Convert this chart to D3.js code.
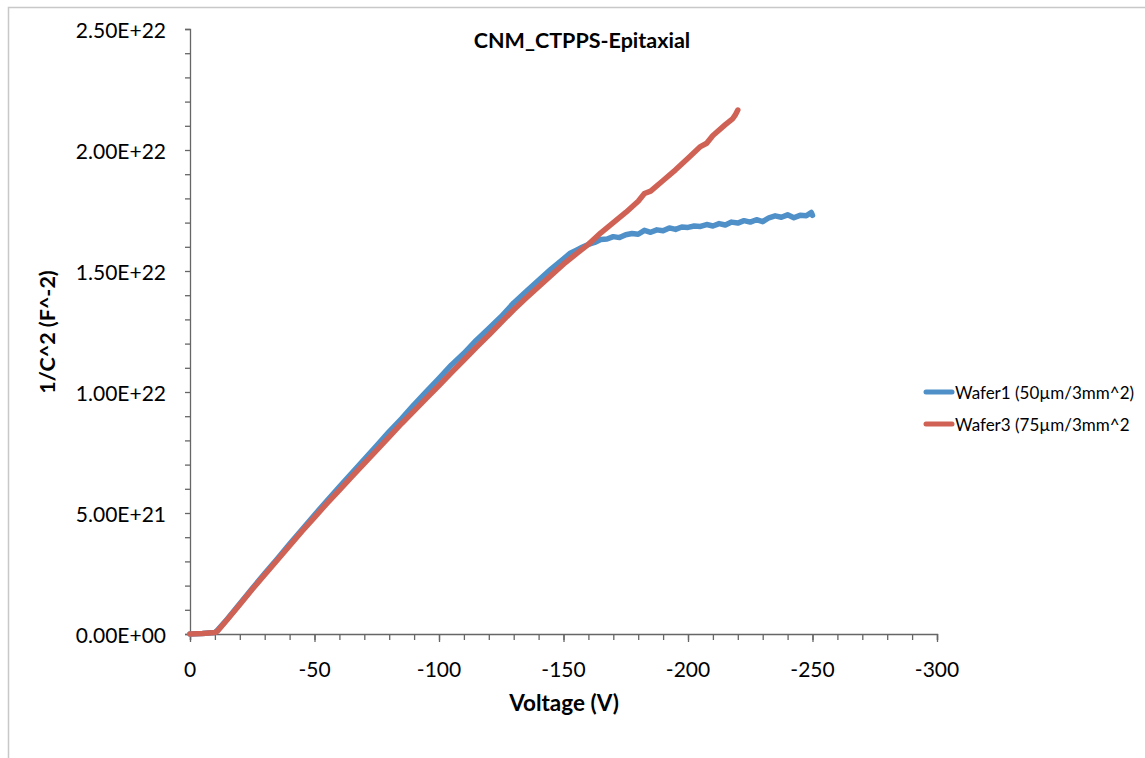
<!DOCTYPE html>
<html>
<head>
<meta charset="utf-8">
<script src="https://cdn.jsdelivr.net/npm/d3@7"></script>
<style>
  body { margin: 0; background: #fff; }
  svg { display: block; }
  text { font-family: Lato, "Open Sans", sans-serif; fill: #000; }
</style>
</head>
<body>
<svg id="chart" width="1145" height="758"></svg>
<script>
// ---------------- data (y values in units of 1E+21 F^-2) ----------------
const title = "CNM_CTPPS-Epitaxial";
const xTitle = "Voltage (V)";
const yTitle = "1/C^2 (F^-2)";
const seriesNames = ["Wafer1 (50µm/3mm^2)", "Wafer3 (75µm/3mm^2"];
const seriesColors = ["#5090C8", "#CF6255"];

const xTickValues = [0, -50, -100, -150, -200, -250, -300];
const xTickLabels = ["0", "-50", "-100", "-150", "-200", "-250", "-300"];
const yTickValues = [0, 5, 10, 15, 20, 25];
const yTickLabels = ["0.00E+00", "5.00E+21", "1.00E+22", "1.50E+22", "2.00E+22", "2.50E+22"];

const wafer1Voltage = [0, -5, -10, -11, -15, -20, -25, -30, -35, -40, -45, -50,
  -55, -60, -65, -70, -75, -80, -85, -90, -95, -100, -105, -110, -115, -120,
  -125, -130, -135, -140, -145, -150, -152.5, -155, -157.5, -160, -162.5, -165,
  -167.5, -170, -172.5, -175, -177.5, -180, -182.5, -185, -187.5, -190, -192.5,
  -195, -197.5, -200, -202.5, -205, -207.5, -210, -212.5, -215, -217.5, -220,
  -222.5, -225, -227.5, -230, -232.5, -235, -237.5, -240, -242.5, -245, -247.5,
  -249.5, -250];
const wafer1Value = [0, 0.02, 0.06, 0.15, 0.62, 1.25, 1.88, 2.5, 3.1, 3.72, 4.32, 4.92,
  5.5, 6.08, 6.65, 7.22, 7.78, 8.36, 8.9, 9.48, 10.02, 10.56, 11.12, 11.6, 12.14, 12.62,
  13.12, 13.68, 14.15, 14.62, 15.08, 15.5, 15.72, 15.85, 15.98, 16.1, 16.18, 16.3,
  16.32, 16.42, 16.38, 16.5, 16.55, 16.52, 16.68, 16.6, 16.7, 16.66, 16.78,
  16.72, 16.82, 16.8, 16.86, 16.84, 16.92, 16.86, 16.96, 16.9, 17.02, 16.98,
  17.08, 17.02, 17.12, 17.04, 17.2, 17.28, 17.22, 17.32, 17.2, 17.3, 17.28,
  17.42, 17.3];

const wafer3Voltage = [0, -5, -10, -11, -15, -20, -25, -30, -35, -40, -45, -50,
  -55, -60, -65, -70, -75, -80, -85, -90, -95, -100, -105, -110, -115, -120,
  -125, -130, -135, -140, -145, -150, -155, -160, -165, -170, -175, -180, -182.5,
  -185, -190, -195, -200, -205, -207.5, -210, -215, -218, -219, -220];
const wafer3Value = [0, 0.02, 0.06, 0.12, 0.6, 1.22, 1.85, 2.45, 3.05, 3.65, 4.25, 4.82,
  5.4, 5.95, 6.5, 7.05, 7.6, 8.15, 8.7, 9.22, 9.75, 10.27, 10.8, 11.32, 11.85, 12.35,
  12.88, 13.4, 13.88, 14.35, 14.82, 15.28, 15.7, 16.1, 16.58, 17.0, 17.42, 17.88, 18.2,
  18.3, 18.74, 19.18, 19.66, 20.14, 20.28, 20.6, 21.05, 21.3, 21.45, 21.65];

// ---------------- drawing ----------------
const svg = d3.select("#chart");
const x = d3.scaleLinear().domain([0, -300]).range([190, 937]);
const y = d3.scaleLinear().domain([0, 25]).range([634, 29]);

// outer frame (only top/left visible)
svg.append("path").attr("d", "M8.5,758 L8.5,7.5 L1145,7.5")
  .attr("fill", "none").attr("stroke", "#c8c8c8").attr("stroke-width", 1.5);

const axisColor = "#666666";

// y axis
const yAxis = svg.append("g").attr("transform", "translate(190,0)")
  .call(d3.axisLeft(y).tickValues(d3.range(0, 25.001, 1)).tickSize(5).tickFormat(""));
yAxis.select(".domain").attr("stroke", axisColor).attr("stroke-width", 1.3);
yAxis.selectAll(".tick line").attr("stroke", axisColor).attr("stroke-width", 1.3);

svg.append("g").selectAll("text").data(yTickValues).join("text")
  .attr("x", 166).attr("y", d => y(d)).attr("text-anchor", "end")
  .attr("dominant-baseline", "central").attr("font-size", 21)
  .text((d, i) => yTickLabels[i]);

// x axis
const xAxisMinor = svg.append("g").attr("transform", "translate(0,634)")
  .call(d3.axisBottom(x).tickValues(d3.range(0, -300.001, -10)).tickSize(6).tickFormat(""));
xAxisMinor.select(".domain").attr("stroke", axisColor).attr("stroke-width", 1.3);
xAxisMinor.selectAll(".tick line").attr("stroke", axisColor).attr("stroke-width", 1.3);
const xAxisMajor = svg.append("g").attr("transform", "translate(0,634)")
  .call(d3.axisBottom(x).tickValues(xTickValues).tickSize(8).tickFormat(""));
xAxisMajor.select(".domain").remove();
xAxisMajor.selectAll(".tick line").attr("stroke", axisColor).attr("stroke-width", 1.3);

svg.append("g").selectAll("text").data(xTickValues).join("text")
  .attr("x", d => x(d)).attr("y", 668).attr("text-anchor", "middle")
  .attr("dominant-baseline", "central").attr("font-size", 21)
  .text((d, i) => xTickLabels[i]);

// titles
svg.append("text").attr("x", 582).attr("y", 40).attr("text-anchor", "middle")
  .attr("dominant-baseline", "central").attr("font-size", 21.5).attr("font-weight", "bold")
  .text(title);
svg.append("text").attr("x", 564).attr("y", 702).attr("text-anchor", "middle")
  .attr("dominant-baseline", "central").attr("font-size", 22.5).attr("font-weight", "bold")
  .text(xTitle);
svg.append("text").attr("transform", "translate(47,332) rotate(-90)").attr("text-anchor", "middle")
  .attr("dominant-baseline", "central").attr("font-size", 21.5).attr("font-weight", "bold")
  .text(yTitle);

// series
const series = [
  wafer1Voltage.map((v, i) => [v, wafer1Value[i]]),
  wafer3Voltage.map((v, i) => [v, wafer3Value[i]])
];
const line = d3.line().x(d => x(d[0])).y(d => y(d[1])).curve(d3.curveLinear);
svg.append("g").selectAll("path").data(series).join("path")
  .attr("d", line).attr("fill", "none")
  .attr("stroke", (d, i) => seriesColors[i]).attr("stroke-width", 5.5)
  .attr("stroke-linejoin", "round").attr("stroke-linecap", "round");

// legend
const legend = svg.append("g").selectAll("g").data(seriesNames).join("g")
  .attr("transform", (d, i) => `translate(0,${392 + i * 32})`);
legend.append("line").attr("x1", 926).attr("x2", 952).attr("y1", 0).attr("y2", 0)
  .attr("stroke", (d, i) => seriesColors[i]).attr("stroke-width", 5).attr("stroke-linecap", "round");
legend.append("text").attr("x", 955).attr("y", 0).attr("dominant-baseline", "central")
  .attr("font-size", 17).text(d => d);
</script>
</body>
</html>
